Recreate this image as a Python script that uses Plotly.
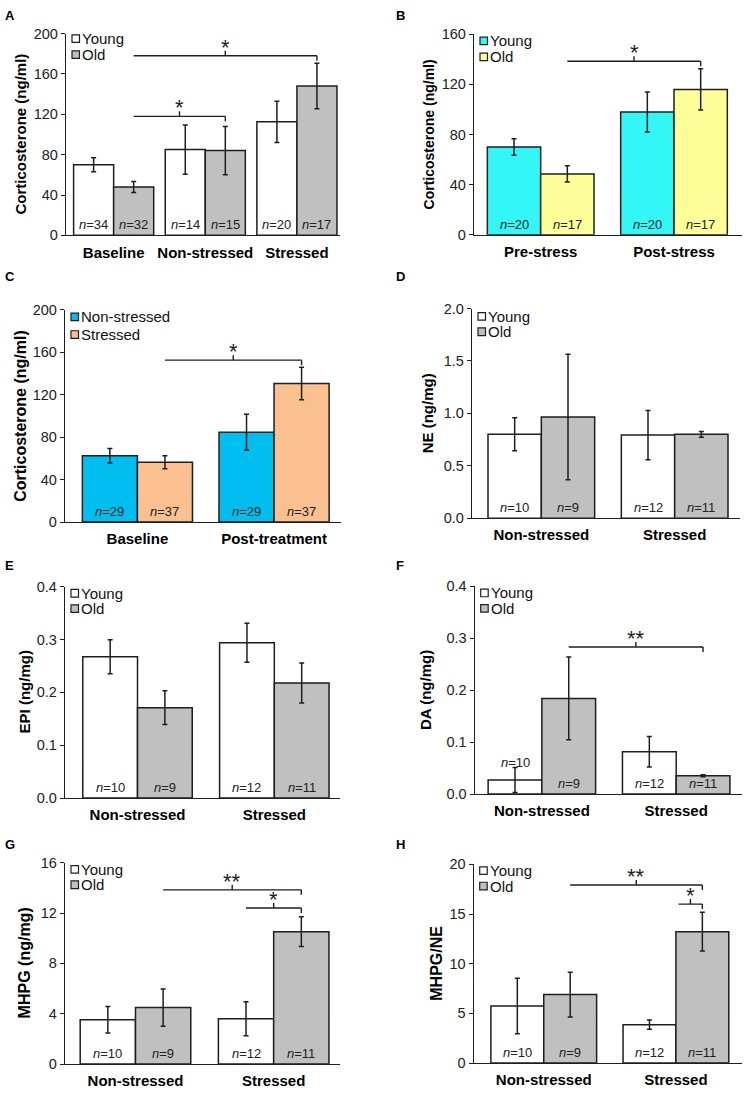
import plotly.graph_objects as go

W, H = 745, 1099
FONT = "Liberation Sans, Arial, Helvetica, sans-serif"
INK = "#1e1e1e"

# ---------------- data ----------------
# Panel A
cats_A = ["Baseline", "Non-stressed", "Stressed"]
young_A = [70, 85, 112.5]
young_A_err = [7, 24.5, 20.5]
old_A = [48, 84, 148]
old_A_err = [5.5, 24, 22.5]
n_young_A = [34, 14, 20]
n_old_A = [32, 15, 17]

# Panel B
cats_B = ["Pre-stress", "Post-stress"]
young_B = [70, 98]
young_B_err = [6.5, 16]
old_B = [48.5, 116]
old_B_err = [6.5, 16.5]
n_young_B = [20, 20]
n_old_B = [17, 17]

# Panel C
cats_C = ["Baseline", "Post-treatment"]
nonstressed_C = [62.4, 84.5]
nonstressed_C_err = [6.8, 17]
stressed_C = [56.3, 130.4]
stressed_C_err = [6.2, 15.3]
n_nonstressed_C = [29, 29]
n_stressed_C = [37, 37]

# Panels D-H
cats_grp = ["Non-stressed", "Stressed"]
young_D = [0.80, 0.793]
young_D_err = [0.157, 0.235]
old_D = [0.965, 0.80]
old_D_err = [0.598, 0.027]

young_E = [0.2675, 0.294]
young_E_err = [0.032, 0.037]
old_E = [0.171, 0.2177]
old_E_err = [0.032, 0.038]

young_F = [0.027, 0.0815]
young_F_err = [0.024, 0.0295]
old_F = [0.184, 0.0354]
old_F_err = [0.0795, 0.002]

young_G = [3.52, 3.6]
young_G_err = [1.05, 1.35]
old_G = [4.49, 10.52]
old_G_err = [1.48, 1.18]

young_H = [5.75, 3.87]
young_H_err = [2.8, 0.47]
old_H = [6.9, 13.22]
old_H_err = [2.25, 1.95]

n_young_DH = [10, 12]
n_old_DH = [9, 11]

WHITE, GRAY = "#ffffff", "#c0c0c0"
CYAN, YELLOW = "#33f7f7", "#ffff99"
BLUE, PEACH = "#00bff0", "#fac090"

# ---------------- panel definitions ----------------
panels = [
    dict(letter="A", lpos=(3, 8), box=(66, 340, 26, 230.7), xr=[-0.52, 2.47], w=0.437,
         cats=cats_A, yr=200, dt=40, fmt="", title="Corticosterone (ng/ml)", tx=20, tfs=15,
         s=[("Young", young_A, young_A_err, n_young_A, WHITE), ("Old", old_A, old_A_err, n_old_A, GRAY)],
         leg=(5, 21), br=[((0, 1), (2, 1), 178, "*"), ((0, 1), (1, 1), 118, "*")]),
    dict(letter="B", lpos=(394, 8), box=(474, 742, 26.7, 230), xr=[-0.5, 1.51], w=0.4,
         cats=cats_B, yr=160, dt=40, fmt="", title="Corticosterone (ng/ml)", tx=429, tfs=14,
         s=[("Young", young_B, young_B_err, n_young_B, CYAN), ("Old", old_B, old_B_err, n_old_B, YELLOW)],
         leg=(6.6, 22.6), br=[((0, 1), (1, 1), 138.5, "*")]),
    dict(letter="C", lpos=(3, 272), box=(65, 341, 306, 521.7), xr=[-0.53, 1.49], w=0.403,
         cats=cats_C, yr=200, dt=40, fmt="", title="Corticosterone (ng/ml)", tx=21, tfs=16,
         s=[("Non-stressed", nonstressed_C, nonstressed_C_err, n_nonstressed_C, BLUE),
            ("Stressed", stressed_C, stressed_C_err, n_stressed_C, PEACH)],
         leg=(7.3, 25), br=[((0, 1), (1, 1), 152.4, "*")]),
    dict(letter="D", lpos=(394, 272), box=(472, 740, 305, 517.7), xr=[-0.52, 1.49], w=0.4,
         cats=cats_grp, yr=2.0, dt=0.5, fmt=".1f", title="NE (ng/mg)", tx=427, tfs=15,
         s=[("Young", young_D, young_D_err, n_young_DH, WHITE), ("Old", old_D, old_D_err, n_old_DH, GRAY)],
         leg=(7.8, 23.2), br=[]),
    dict(letter="E", lpos=(3, 566), box=(65, 340, 587.3, 801.7), xr=[-0.53, 1.48], w=0.4,
         cats=cats_grp, yr=0.4, dt=0.1, fmt=".1f", title="EPI (ng/mg)", tx=24, tfs=15,
         s=[("Young", young_E, young_E_err, n_young_DH, WHITE), ("Old", old_E, old_E_err, n_old_DH, GRAY)],
         leg=(6.5, 21.9), br=[]),
    dict(letter="F", lpos=(394, 566), box=(474.7, 742, 586.7, 797.7), xr=[-0.5, 1.49], w=0.4,
         cats=cats_grp, yr=0.4, dt=0.1, fmt=".1f", title="DA (ng/mg)", tx=425, tfs=15,
         s=[("Young", young_F, young_F_err, n_young_DH, WHITE), ("Old", old_F, old_F_err, n_old_DH, GRAY)],
         leg=(6.8, 22.2), br=[((0, 1), (1, 1), 0.283, "**")], nabove={(0, 0): 0.06}),
    dict(letter="G", lpos=(3, 849), box=(65, 340, 867.3, 1071.7), xr=[-0.51, 1.48], w=0.4,
         cats=cats_grp, yr=16, dt=4, fmt="", title="MHPG (ng/mg)", tx=24, tfs=16,
         s=[("Young", young_G, young_G_err, n_young_DH, WHITE), ("Old", old_G, old_G_err, n_old_DH, GRAY)],
         leg=(6.7, 22.1), br=[((0, 1), (1, 1), 13.84, "**"), ((1, 0), (1, 1), 12.4, "*")]),
    dict(letter="H", lpos=(394, 849), box=(473.7, 742, 869, 1070.7), xr=[-0.53, 1.5], w=0.4,
         cats=cats_grp, yr=20, dt=5, fmt="", title="MHPG/NE", tx=437, tfs=16,
         s=[("Young", young_H, young_H_err, n_young_DH, WHITE), ("Old", old_H, old_H_err, n_old_DH, GRAY)],
         leg=(6.3, 21.7), br=[((0, 1), (1, 1), 17.92, "**"), ((1, 0.55), (1, 1), 16.0, "*")]),
]

fig = go.Figure()
shapes, annos = [], []


def bar_x(cat, k, w):
    # centre of series k (may be fractional) within category cat
    return cat - w / 2 + k * w


for i, p in enumerate(panels, start=1):
    xa = "x" if i == 1 else f"x{i}"
    ya = "y" if i == 1 else f"y{i}"
    L, R, T, B = p["box"]
    w = p["w"]
    ncat = len(p["cats"])
    xs = list(range(ncat))
    for k, (name, vals, errs, ns, col) in enumerate(p["s"]):
        fig.add_trace(go.Bar(
            x=xs, y=vals, width=w, offset=(-w if k == 0 else 0), name=name,
            marker=dict(color=col, line=dict(color=INK, width=1.5)),
            error_y=dict(type="data", array=errs, visible=True, color=INK, thickness=1.5, width=2.5),
            xaxis=xa, yaxis=ya, showlegend=False, hoverinfo="skip"))
        for c in xs:
            yv = p.get("nabove", {}).get((c, k))
            annos.append(dict(
                text=f"<i>n</i>={ns[c]}", x=bar_x(c, k, w), xref=xa, yref=ya,
                y=(yv if yv is not None else 0), yanchor=("middle" if yv is not None else "bottom"),
                yshift=(0 if yv is not None else 1), showarrow=False,
                font=dict(family=FONT, size=13, color="#222")))
        # legend entry (drawn)
        off = p["leg"][k]
        shapes.append(dict(type="rect", xref=f"{xa} domain", yref=f"{ya} domain",
                           xsizemode="pixel", ysizemode="pixel", xanchor=0, yanchor=1,
                           x0=6, x1=13.5, y0=-off - 3.8, y1=-off + 3.8,
                           fillcolor=col, line=dict(color=INK, width=1.2)))
        annos.append(dict(text=name, xref=f"{xa} domain", yref=f"{ya} domain", x=0, y=1,
                          xanchor="left", yanchor="middle", xshift=14, yshift=-off,
                          showarrow=False, font=dict(family=FONT, size=15, color="#111")))

    # significance brackets
    for (c0, k0), (c1, k1), yb, star in p["br"]:
        x0 = bar_x(c0, k0, w)
        x1 = bar_x(c1, k1, w)
        xm = (x0 + x1) / 2
        line = dict(color=INK, width=1.4)
        shapes.append(dict(type="line", xref=xa, yref=ya, x0=x0, x1=x1, y0=yb, y1=yb, line=line))
        shapes.append(dict(type="line", xref=xa, yref=ya, ysizemode="pixel", yanchor=yb,
                           x0=x1, x1=x1, y0=0, y1=-5, line=line))
        shapes.append(dict(type="line", xref=xa, yref=ya, ysizemode="pixel", yanchor=yb,
                           x0=xm, x1=xm, y0=0, y1=5, line=line))
        annos.append(dict(text=star, x=xm, y=yb, xref=xa, yref=ya, yanchor="bottom", yshift=-6,
                          showarrow=False, font=dict(family=FONT, size=22, color=INK)))

    # panel letter
    annos.append(dict(text=f"<b>{p['letter']}</b>", xref="paper", yref="paper",
                      x=p["lpos"][0] / W, y=1 - p["lpos"][1] / H, xanchor="left", yanchor="middle",
                      showarrow=False, font=dict(family=FONT, size=13, color="#000")))
    # y-axis title
    annos.append(dict(text=f"<b>{p['title']}</b>", xref="paper", yref="paper",
                      x=p["tx"] / W, y=1 - ((T + B) / 2) / H, xanchor="center", yanchor="middle",
                      textangle=-90, showarrow=False,
                      font=dict(family=FONT, size=p["tfs"], color="#000")))

    fig.update_layout({
        f"xaxis{'' if i == 1 else i}": dict(
            domain=[L / W, R / W], range=p["xr"], anchor=ya, tickmode="array",
            tickvals=xs, ticktext=p["cats"], showline=True, linecolor=INK, linewidth=1.4,
            ticks="", showgrid=False, zeroline=False, ticklabelstandoff=3,
            tickfont=dict(family=FONT, size=15, color="#000", weight="bold"), fixedrange=True),
        f"yaxis{'' if i == 1 else i}": dict(
            domain=[1 - B / H, 1 - T / H], range=[0, p["yr"]], anchor=xa, dtick=p["dt"], tick0=0,
            tickformat=p["fmt"], showline=True, linecolor=INK, linewidth=1.4, ticks="outside",
            ticklen=4, tickcolor=INK, tickwidth=1.2, showgrid=False, zeroline=False,
            tickfont=dict(family=FONT, size=14.5, color="#222"), fixedrange=True),
    })

fig.update_layout(
    width=W, height=H, margin=dict(l=0, r=0, t=0, b=0),
    paper_bgcolor="white", plot_bgcolor="white", barmode="overlay",
    shapes=shapes, annotations=annos, showlegend=False,
    font=dict(family=FONT),
)

fig.write_html("out.html", config={"displayModeBar": False},
               post_script="document.body.style.margin='0px';")
